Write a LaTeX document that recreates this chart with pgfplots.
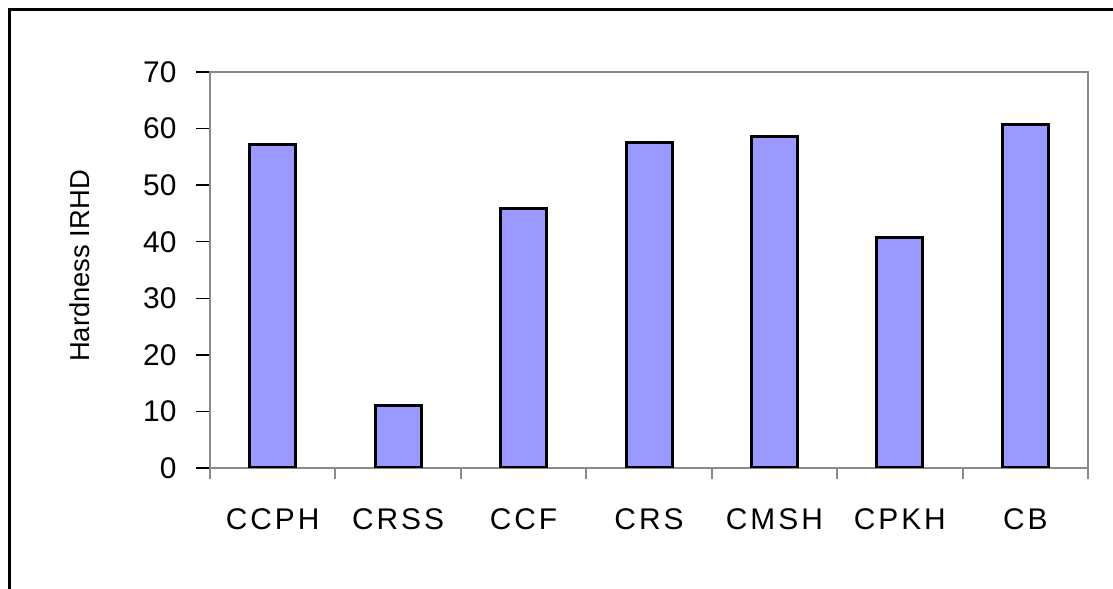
\documentclass[border=0pt]{standalone}
\usepackage{fontspec}
\setmainfont{Liberation Sans}
\usepackage{pgfplots}
\pgfplotsset{compat=1.18}
\definecolor{barfill}{HTML}{9999FF}
\definecolor{axgray}{HTML}{8A8A8A}

\begin{document}
\begin{tikzpicture}
  \useasboundingbox (0bp,0bp) rectangle (1113bp,589bp);
  % outer chart frame (cut off right and bottom)
  \draw[line width=3bp] (9.5bp,-10bp) -- (9.5bp,579.5bp) -- (1125bp,579.5bp);

  \begin{axis}[
      at={(210bp,121bp)}, anchor=south west,
      scale only axis,
      width=878bp, height=396bp,
      xmin=0.5, xmax=7.5,
      ymin=0, ymax=70,
      ytick={0,10,...,70},
      xtick={1,...,7},
      xticklabels={CCPH,CRSS,CCF,CRS,CMSH,CPKH,CB},
      minor xtick={0.5,1.5,...,7.5},
      xtick pos=lower, ytick pos=left,
      major x tick style={draw=none},
      minor x tick style={draw=axgray, line width=2bp},
      ytick style={draw=black, line width=1.5bp},
      tick align=outside,
      major tick length=14bp,
      minor tick length=11bp,
      axis line style={draw=axgray, line width=2.5bp},
      /pgf/number format/assume math mode=true,
      yticklabel style={font=\fontsize{30}{36}\selectfont, xshift=-16bp},
      xticklabel style={font=\fontsize{30}{36}\selectfont\addfontfeature{LetterSpace=10},
        yshift=-23bp},
      ylabel={Hardness IRHD},
      ylabel style={font=\fontsize{27.5}{32}\selectfont,
        at={(axis description cs:-0.148,0.51)}, anchor=center},
      ybar, bar width=46bp,
    ]
    \addplot[fill=barfill, draw=black, line width=3bp] coordinates {
      (1,57.1) (2,11.1) (3,45.8) (4,57.6) (5,58.6) (6,40.8) (7,60.7)
    };
  \end{axis}
\end{tikzpicture}
\end{document}
